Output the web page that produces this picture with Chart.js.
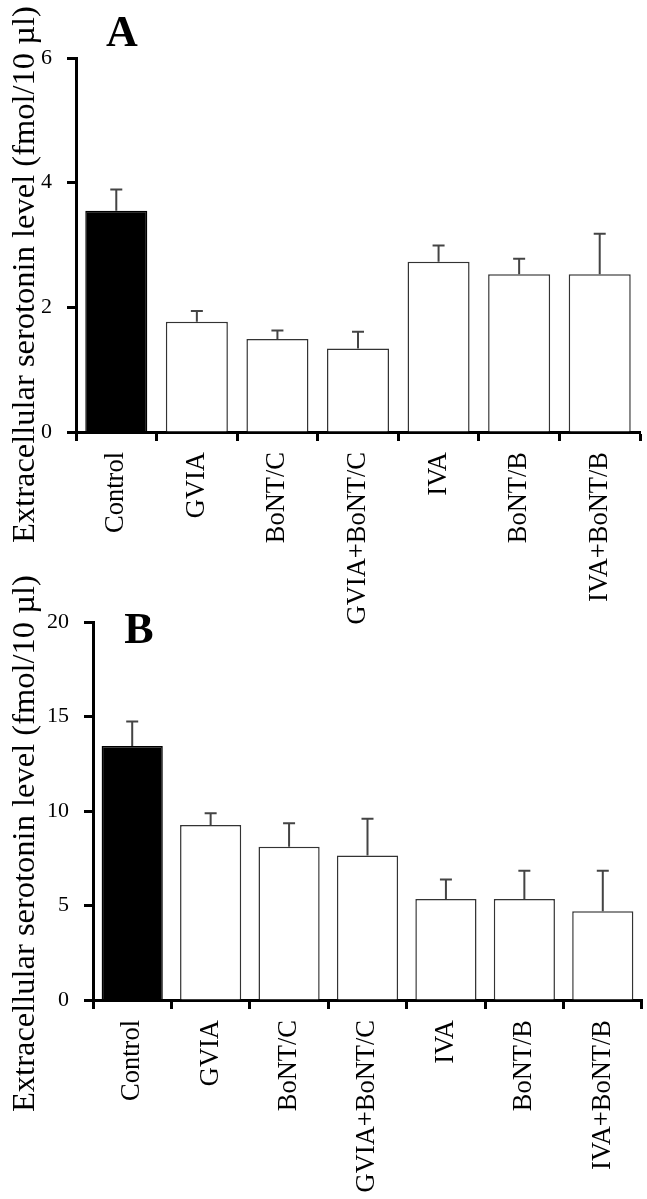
<!DOCTYPE html>
<html>
<head>
<meta charset="utf-8">
<script src="https://cdn.jsdelivr.net/npm/chart.js@4.4.1/dist/chart.umd.min.js"></script>
<style>
  html, body { margin: 0; padding: 0; background: #fff; }
  #wrap { position: relative; width: 647px; height: 1199px; }
  canvas { position: absolute; left: 0; }
  #chartA { top: 0; }
  #chartB { top: 570px; }
</style>
</head>
<body>
<div id="wrap">
  <canvas id="chartA" width="647" height="630"></canvas>
  <canvas id="chartB" width="647" height="629"></canvas>
</div>
<script>
const categories = ['Control', 'GVIA', 'BoNT/C', 'GVIA+BoNT/C', 'IVA', 'BoNT/B', 'IVA+BoNT/B'];

const meansA = [3.55, 1.77, 1.49, 1.34, 2.73, 2.53, 2.53];
const errorsA = [0.34, 0.17, 0.14, 0.27, 0.26, 0.25, 0.65];
const ticksA = [0, 2, 4, 6];

const meansB = [13.44, 9.26, 8.11, 7.64, 5.34, 5.34, 4.69];
const errorsB = [1.29, 0.62, 1.24, 1.95, 1.03, 1.50, 2.15];
const ticksB = [0, 5, 10, 15, 20];

const yTitle = 'Extracellular serotonin level (fmol/10 µl)';

const SERIF = '"Liberation Serif", "Times New Roman", serif';

// error bars, drawn from each bar top through the y scale
const errorBars = {
  id: 'errorBars',
  afterDatasetsDraw(chart, args, opts) {
    const ctx = chart.ctx;
    const y = chart.scales.y;
    const meta = chart.getDatasetMeta(0);
    const vals = chart.data.datasets[0].data;
    ctx.save();
    ctx.strokeStyle = '#444';
    ctx.lineWidth = 2;
    meta.data.forEach((bar, i) => {
      const top = y.getPixelForValue(vals[i] + opts.errors[i]);
      const base = y.getPixelForValue(vals[i]);
      ctx.beginPath();
      ctx.moveTo(bar.x, base);
      ctx.lineTo(bar.x, top);
      ctx.moveTo(bar.x - 6, top);
      ctx.lineTo(bar.x + 6, top);
      ctx.stroke();
    });
    ctx.restore();
  }
};

// panel letter and rotated y title
const panelText = {
  id: 'panelText',
  afterDraw(chart, args, opts) {
    const ctx = chart.ctx;
    ctx.save();
    ctx.fillStyle = '#000';
    ctx.font = 'bold 44px ' + SERIF;
    ctx.textAlign = 'center';
    ctx.textBaseline = 'alphabetic';
    ctx.fillText(opts.letter, opts.letterX, opts.letterY);
    ctx.translate(opts.titleX, opts.titleY);
    ctx.rotate(-Math.PI / 2);
    ctx.font = '32.5px ' + SERIF;
    ctx.textAlign = 'left';
    ctx.fillText(yTitle, 0, 0);
    ctx.restore();
  }
};

function makeChart(id, means, errors, ticks, panel) {
  const last = ticks[ticks.length - 1];
  return new Chart(document.getElementById(id), {
    type: 'bar',
    data: {
      labels: categories,
      datasets: [{
        data: means,
        backgroundColor: means.map((v, i) => i === 0 ? '#000' : '#fff'),
        borderColor: means.map((v, i) => i === 0 ? '#000' : '#333'),
        borderWidth: 1.5,
        barPercentage: panel.barPct,
        categoryPercentage: 1
      }]
    },
    options: {
      responsive: false,
      animation: false,
      events: [],
      layout: { padding: { top: panel.top, right: panel.right, left: 0, bottom: 0 } },
      plugins: {
        legend: { display: false },
        tooltip: { enabled: false },
        errorBars: { errors: errors },
        panelText: panel
      },
      scales: {
        x: {
          afterFit(scale) { scale.height = panel.xHeight; },
          border: { color: '#000', width: 3 },
          grid: {
            offset: true,
            drawOnChartArea: false,
            drawTicks: true,
            tickLength: 9,
            tickWidth: 3,
            tickColor: '#000'
          },
          ticks: {
            minRotation: 90,
            maxRotation: 90,
            autoSkip: false,
            padding: 11,
            color: '#000',
            font: { family: SERIF, size: 26.5 }
          }
        },
        y: {
          min: 0,
          max: last,
          afterFit(scale) { scale.width = panel.yWidth; },
          afterBuildTicks(scale) { scale.ticks = ticks.map(v => ({ value: v })); },
          border: { color: '#000', width: 3 },
          grid: {
            drawOnChartArea: false,
            drawTicks: true,
            tickLength: 9,
            tickWidth: 3,
            tickColor: '#000'
          },
          ticks: {
            padding: 15,
            color: '#000',
            font: { family: SERIF, size: 22 }
          }
        }
      }
    },
    plugins: [errorBars, panelText]
  });
}

makeChart('chartA', meansA, errorsA, ticksA, {
  top: 58, right: 7, xHeight: 198, yWidth: 76, barPct: 0.77,
  letter: 'A', letterX: 122, letterY: 46, titleX: 34, titleY: 543
});

makeChart('chartB', meansB, errorsB, ticksB, {
  top: 52, right: 5, xHeight: 199, yWidth: 93, barPct: 0.78,
  letter: 'B', letterX: 139, letterY: 73, titleX: 34, titleY: 542
});
</script>
</body>
</html>
